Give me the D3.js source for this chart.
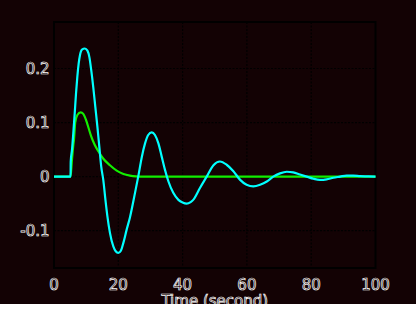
<!DOCTYPE html>
<html><head><meta charset="utf-8">
<script src="https://cdn.jsdelivr.net/npm/d3@7"></script>
<style>html,body{margin:0;padding:0;background:#fff;}svg{display:block;}</style>
</head><body>
<script>
const xTicks = [0, 20, 40, 60, 80, 100];
const yTicks = [-0.1, 0, 0.1, 0.2];
const yTickLabels = ["-0.1", "0", "0.1", "0.2"];
const xLabel = "Time (second)";

const cyanT = [0,5.15,5.2,5.6,6.0,6.43,6.84,7.26,7.67,8.09,8.7,9.6,10.4,11.0,11.6,12.2,12.85,13.5,14.1,14.7,15.35,16.0,16.6,17.4,18.45,19.2,20.0,20.8,21.6,22.6,23.6,25.2,26.2,27.3,28.3,29.3,30.4,31.4,32.5,33.5,34.5,35.6,37.1,38.7,40.0,41.3,42.5,43.3,45.4,47.5,49.6,51.6,53.7,55.8,57.9,59.9,62.0,64.1,66.2,68.2,70.3,72.4,74.4,76.5,78.6,80.7,82.7,84.8,86.9,89.0,91.0,93.1,95.2,97.3,100];
const cyanV = [0,0,0.028,0.050,0.080,0.116,0.153,0.185,0.209,0.225,0.235,0.237,0.233,0.221,0.196,0.166,0.129,0.092,0.055,0.018,-0.007,-0.043,-0.073,-0.104,-0.129,-0.138,-0.141,-0.137,-0.122,-0.098,-0.076,-0.030,0.000,0.036,0.061,0.077,0.082,0.077,0.061,0.037,0.013,-0.009,-0.030,-0.043,-0.048,-0.050,-0.047,-0.043,-0.021,0.000,0.021,0.028,0.022,0.010,-0.006,-0.015,-0.018,-0.015,-0.009,0.000,0.006,0.009,0.008,0.004,0.000,-0.004,-0.006,-0.005,-0.002,0.000,0.002,0.002,0.001,0.0005,0];

const greenT = [0,5.15,5.5,6.0,6.2,6.6,7.26,8.3,9.1,9.95,10.8,11.6,12.65,13.9,15.35,17.4,19.5,21.6,23.6,25.5,27,100];
const greenV = [0,0,0.025,0.058,0.068,0.100,0.114,0.119,0.116,0.105,0.089,0.074,0.059,0.046,0.033,0.021,0.011,0.005,0.002,0.0005,0,0];

const W = 416, H = 312, bgH = 304;
const svg = d3.select("body").append("svg").attr("width", W).attr("height", H);
svg.append("rect").attr("width", W).attr("height", bgH).attr("fill", "#130204");

const x = d3.scaleLinear().domain([0, 100]).range([54, 375.5]);
const y = d3.scaleLinear().domain([-0.169, 0.286]).range([268, 22]);

const grid = svg.append("g").attr("stroke", "#000").attr("stroke-width", 1.2).attr("stroke-dasharray", "2,1.5");
grid.selectAll("line.v").data(xTicks.filter(d => d > 0 && d < 100)).join("line")
  .attr("x1", d => x(d)).attr("x2", d => x(d)).attr("y1", y.range()[1]).attr("y2", y.range()[0]);
grid.selectAll("line.h").data(yTicks).join("line")
  .attr("y1", d => y(d)).attr("y2", d => y(d)).attr("x1", x.range()[0]).attr("x2", x.range()[1]);

svg.append("rect").attr("x", x.range()[0]).attr("y", y.range()[1])
  .attr("width", x.range()[1] - x.range()[0]).attr("height", y.range()[0] - y.range()[1])
  .attr("fill", "none").attr("stroke", "#000").attr("stroke-width", 2);

const line = d3.line().x(d => x(d[0])).y(d => y(d[1])).curve(d3.curveMonotoneX);
svg.append("path").datum(d3.zip(greenT, greenV)).attr("d", line)
  .attr("fill", "none").attr("stroke", "#11ee00").attr("stroke-width", 2.2);
svg.append("path").datum(d3.zip(cyanT, cyanV)).attr("d", line)
  .attr("fill", "none").attr("stroke", "#00ffff").attr("stroke-width", 2.2);

const txt = g => g.attr("font-family", "DejaVu Sans").attr("font-size", 15)
  .attr("fill", "none").attr("stroke", "#ffffff").attr("stroke-width", 0.7);

svg.append("g").call(txt).selectAll("text").data(xTicks).join("text")
  .attr("x", d => x(d)).attr("y", 289.5).attr("text-anchor", "middle").text(d => d);
svg.append("g").call(txt).selectAll("text").data(yTicks).join("text")
  .attr("x", 49.5).attr("y", d => y(d) + 5.5).attr("text-anchor", "end").text((d, i) => yTickLabels[i]);
svg.append("g").call(txt).append("text")
  .attr("x", (x.range()[0] + x.range()[1]) / 2).attr("y", 306).attr("text-anchor", "middle").text(xLabel);
</script>
</body></html>
